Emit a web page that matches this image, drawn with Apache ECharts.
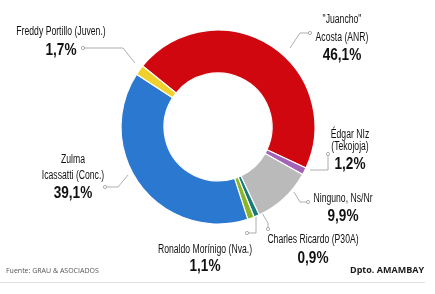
<!DOCTYPE html>
<html><head><meta charset="utf-8">
<script src="https://cdn.jsdelivr.net/npm/echarts@6/dist/echarts.min.js"></script>
<style>html,body{margin:0;padding:0;background:#fff}#c{width:435px;height:294px}</style>
</head><body><div id="c"></div>
<script>
// Data
const names = ['"Juancho"\nAcosta (ANR)', 'Édgar NIz\n(Tekojoja)', 'Ninguno, Ns/Nr', 'Charles Ricardo (P30A)', 'Ronaldo Morínigo (Nva.)', 'Zulma\nIcassatti (Conc.)', 'Freddy Portillo (Juven.)'];
const values = [46.1, 1.2, 9.9, 0.9, 1.1, 39.1, 1.7];
const pctLabels = ['46,1%', '1,2%', '9,9%', '0,9%', '1,1%', '39,1%', '1,7%'];

// Styling / layout
const colors = ['#d0070f', '#a463b7', '#bababa', '#167a78', '#8bb527', '#2a78d0', '#f0d02c'];
// [center x, center y of first name line, center y of percentage]
const labelPos = [[342, 20, 55], [350, 135, 164], [343, 199, 216], [313, 240, 258], [205, 250, 266], [73, 160, 193], [61, 32, 50]];
const nameLineGap = [18, 12, 0, 0, 0, 16, 0];
const leaders = [
  [[290, 48], [300, 33], [310, 33]],
  [[310, 170], [328, 170], [328, 154]],
  [[294, 192], [300, 202], [308, 202]],
  [[262, 213], [268, 223], [268, 229]],
  [[256, 216], [256, 233], [247, 233]],
  [[128, 175], [118, 187], [105, 187]],
  [[135, 63], [123, 48], [83, 48]]
];
const fontName = '"Liberation Sans",Arial,sans-serif';

const data = values.map((v, i) => ({
  value: v, name: names[i], itemStyle: { color: colors[i] }
}));

const graphics = [];
names.forEach((n, i) => {
  const lines = n.split('\n');
  lines.forEach((t, k) => {
    graphics.push({
      type: 'text', x: labelPos[i][0], y: labelPos[i][1] + k * nameLineGap[i], scaleX: 0.72,
      style: { text: t, fontFamily: fontName, fontSize: 12, fill: '#111', align: 'center', verticalAlign: 'middle' }
    });
  });
  graphics.push({
    type: 'text', x: labelPos[i][0], y: labelPos[i][2], scaleX: 0.8,
    style: { text: pctLabels[i], fontFamily: fontName, fontSize: 17, fontWeight: 'bold', fill: '#111', align: 'center', verticalAlign: 'middle' }
  });
});
leaders.forEach(l => {
  graphics.push({ type: 'polyline', shape: { points: l }, style: { stroke: '#9a9a9a', lineWidth: 0.8, fill: null } });
  graphics.push({ type: 'circle', shape: { cx: l[2][0], cy: l[2][1], r: 1.6 }, style: { fill: '#fff', stroke: '#9a9a9a', lineWidth: 0.8 }, z: 10 });
});
graphics.push(
  { type: 'text', left: 6, top: 267, style: { text: 'Fuente: GRAU & ASOCIADOS', fontFamily: '"Open Sans",sans-serif', fontSize: 7, fill: '#555' } },
  { type: 'text', right: 11, top: 266, style: { text: 'Dpto. AMAMBAY', fontFamily: '"Open Sans",sans-serif', fontSize: 9, fontWeight: 'bold', fill: '#1a1a1a' } },
  { type: 'rect', shape: { x: 0, y: 282, width: 425, height: 1 }, style: { fill: '#e2e2e2' } }
);

const chart = echarts.init(document.getElementById('c'), null, { renderer: 'canvas' });
chart.setOption({
  animation: false,
  series: [{
    type: 'pie',
    center: [218, 127],
    radius: [54, 97],
    startAngle: 141,
    clockwise: true,
    itemStyle: { borderColor: '#fff', borderWidth: 1.2 },
    label: { show: false },
    labelLine: { show: false },
    data: data
  }],
  graphic: graphics
});
</script></body></html>
